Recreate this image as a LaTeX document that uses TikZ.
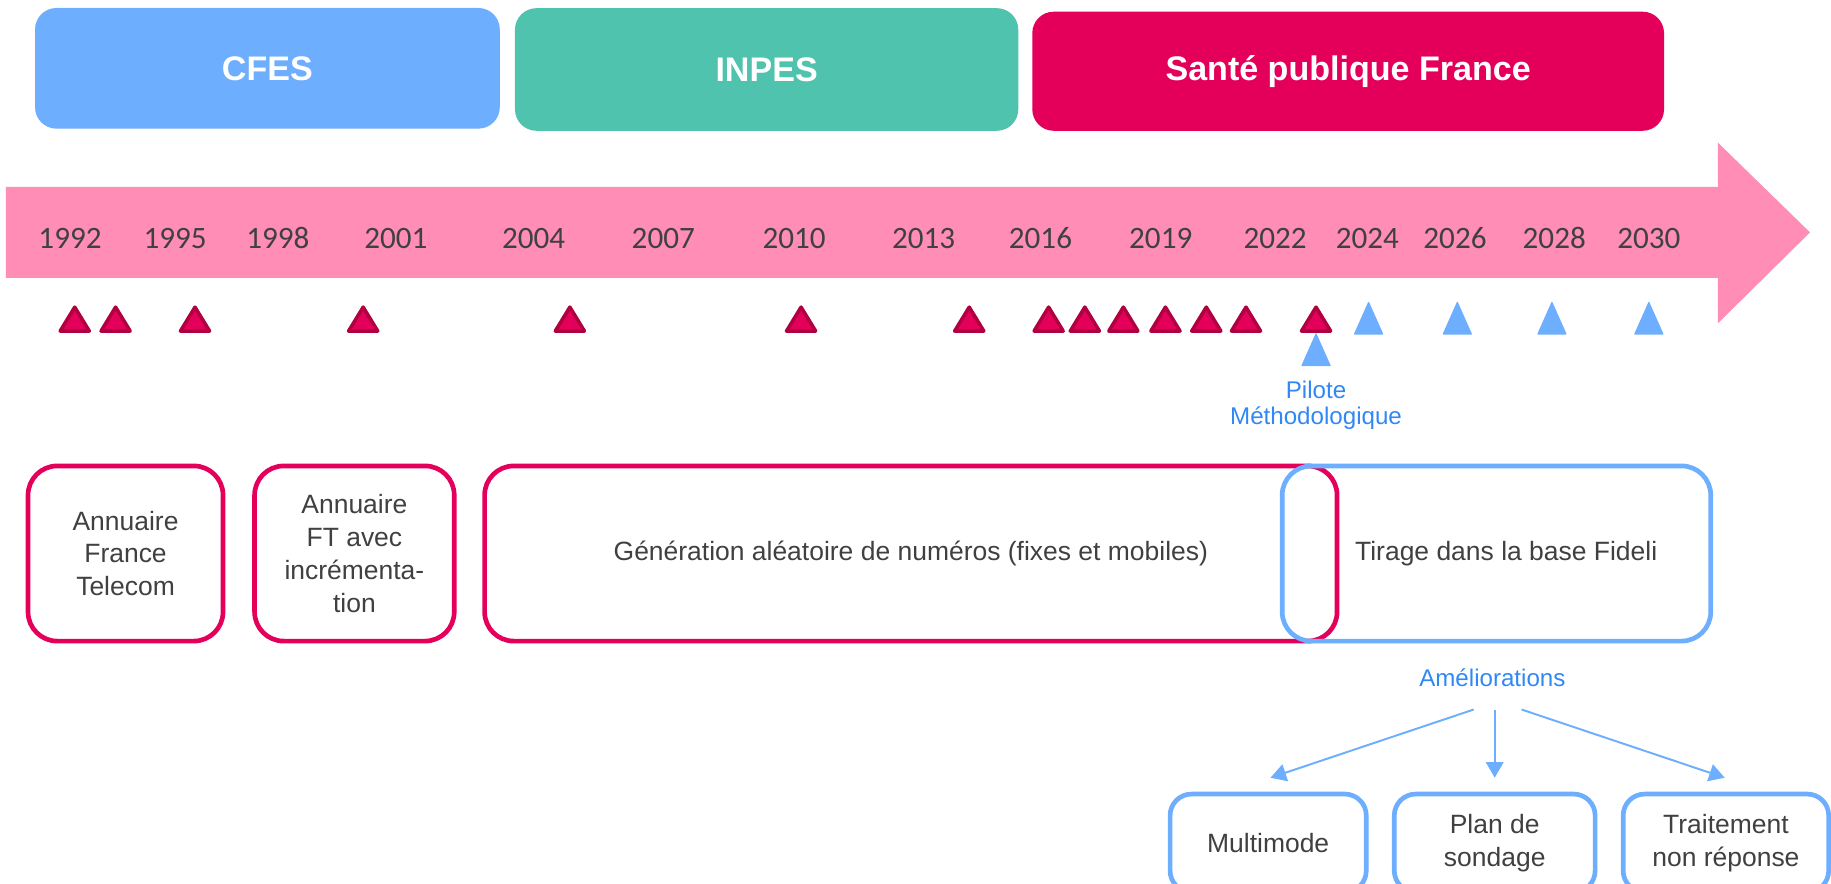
\documentclass[tikz,border=0pt]{standalone}
\usepackage{fontspec}
\setmainfont{Liberation Sans}
\newfontfamily\yearfont{Carlito}
\usepackage{xcolor}
\usetikzlibrary{calc,arrows.meta}
\definecolor{cfesblue}{RGB}{109,174,255}
\definecolor{inpesgreen}{RGB}{79,195,174}
\definecolor{spfred}{RGB}{228,0,90}
\definecolor{spfdark}{RGB}{176,0,64}
\definecolor{bandpink}{RGB}{255,141,182}
\definecolor{txtgray}{RGB}{64,64,64}
\definecolor{labelblue}{RGB}{48,136,245}
\tikzstyle{period}=[rounded corners=11pt, text=white, font=\fontsize{17.5}{21}\selectfont\bfseries, minimum height=62pt]
\tikzstyle{method}=[draw, line width=2.4pt, rounded corners=15pt, align=center, text=txtgray, font=\fontsize{13.6}{16.8}\selectfont, minimum height=90pt]
\tikzstyle{redbox}=[method, draw=spfred]
\tikzstyle{bluebox}=[method, draw=cfesblue]
\tikzstyle{year}=[text=txtgray, font=\yearfont\fontsize{16}{19}\selectfont]
\tikzstyle{redtri}=[fill=spfred, draw=spfdark, line width=1.8pt, line join=round]
\tikzstyle{bluetri}=[fill=cfesblue, draw=cfesblue, line width=0.6pt, line join=round]
\tikzstyle{bluelabel}=[text=labelblue, align=center, font=\fontsize{12.4}{13.8}\selectfont]
\tikzstyle{impr}=[draw=cfesblue, line width=1pt, -{Triangle[length=8pt,width=9pt]}]

\begin{document}
\begin{tikzpicture}[x=0.6pt, y=-0.6pt]
    \clip (0,0) rectangle (1568,757);

    % periods
    \node[period, fill=cfesblue, minimum width=238.8pt] (cfes) at (229,58.5) {CFES};
    \node[period, fill=inpesgreen, minimum width=258.6pt, minimum height=63pt] (inpes) at (656.5,59.5) {INPES};
    \node[period, fill=spfred, minimum width=324.6pt, minimum height=61.2pt] (spf) at (1154.5,61) {Santé publique France};

    % time band
    \fill[bandpink] (5,160) -- (1471,160) -- (1471,122) -- (1550,199) -- (1471,277) -- (1471,238) -- (5,238) -- cycle;
    \foreach \x/\yr in {60/1992,150/1995,238/1998,339/2001,457/2004,568/2007,680/2010,791/2013,
                        891/2016,994/2019,1092/2022,1171/2024,1246/2026,1331/2028,1412/2030}
        \node[year] (y\yr) at (\x,204) {\yr};

    % surveys done
    \foreach \c in {64,99,167,311,488,686,830,898,929,962,998,1033,1067,1127}
        \filldraw[redtri] ({\c-12.5},283.5) -- (\c,263) -- ({\c+12.5},283.5) -- cycle;
    % surveys to come
    \foreach \c in {1172,1248,1329,1412}
        \filldraw[bluetri] ({\c-12},286) -- (\c,259) -- ({\c+12},286) -- cycle;
    \filldraw[bluetri] (1115,313) -- (1127,286) -- (1139,313) -- cycle;
    \node[bluelabel] (pilote) at (1127,347) {Pilote\\Méthodologique};

    % sampling methods
    \node[redbox, minimum width=100.2pt] (annu) at (107.5,474) {Annuaire\\France\\Telecom};
    \node[redbox, minimum width=102.6pt] (annuft) at (303.5,474) {Annuaire\\FT avec\\incrémenta-\\tion};
    \node[redbox, minimum width=438pt] (gen) at (780,474) {Génération aléatoire de numéros (fixes et mobiles)};
    \node[bluebox, minimum width=220.2pt] (fideli) at (1281.5,474) {\hspace{10pt}Tirage dans la base Fideli};

    % improvements
    \node[bluelabel] (amel) at (1278,580) {Améliorations};
    \node[bluebox, minimum width=100.8pt, minimum height=50.4pt, rounded corners=11pt] (multi) at (1086,722) {Multimode};
    \node[bluebox, minimum width=103.2pt, minimum height=50.4pt, rounded corners=11pt] (plan) at (1280,722) {Plan de\\sondage};
    \node[bluebox, minimum width=105.6pt, minimum height=50.4pt, rounded corners=11pt] (trait) at (1478,722) {Traitement\\non réponse};

    \draw[impr] ($(amel.south)+(-16,14)$) -- ($(multi.north)+(2,-12)$);
    \draw[impr] ($(amel.south)+(2,14)$) -- ($(plan.north)+(0,-12)$);
    \draw[impr] ($(amel.south)+(25,14)$) -- ($(trait.north)+(-1,-12)$);

  \end{tikzpicture}
\end{document}
